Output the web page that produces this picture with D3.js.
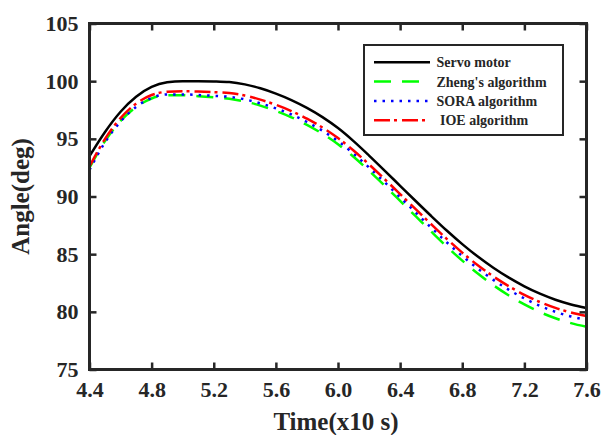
<!DOCTYPE html>
<html>
<head>
<meta charset="utf-8">
<script src="https://cdn.jsdelivr.net/npm/d3@7"></script>
<style>
  body { margin: 0; background: #fff; }
  svg { display: block; }
  text { font-family: "Liberation Serif", "Times New Roman", serif; font-weight: bold; fill: #262626; }
</style>
</head>
<body>
<svg width="604" height="435"></svg>
<script>
const time = [4.4, 4.5, 4.6, 4.7, 4.8, 4.9, 5.0, 5.1, 5.2, 5.3, 5.4, 5.5, 5.6, 5.7, 5.8, 5.9, 6.0,
  6.1, 6.2, 6.3, 6.4, 6.5, 6.6, 6.7, 6.8, 6.9, 7.0, 7.1, 7.2, 7.3, 7.4, 7.5, 7.6];

const servo = [93.5, 95.6, 97.35, 98.65, 99.5, 99.9, 100.0, 100.0, 99.98, 99.92, 99.72, 99.38, 98.92,
  98.36, 97.68, 96.88, 95.93, 94.8, 93.55, 92.25, 90.93, 89.61, 88.31, 87.05, 85.87, 84.79, 83.82,
  82.96, 82.21, 81.57, 81.05, 80.64, 80.33];
const zheng = [92.5, 94.8, 96.55, 97.75, 98.5, 98.78, 98.78, 98.7, 98.6, 98.48, 98.24, 97.88, 97.42,
  96.87, 96.21, 95.44, 94.53, 93.44, 92.22, 90.94, 89.62, 88.29, 86.96, 85.66, 84.44, 83.32, 82.31,
  81.42, 80.64, 79.98, 79.44, 79.02, 78.7];
const sora = [92.3, 94.7, 96.5, 97.77, 98.55, 98.85, 98.85, 98.8, 98.73, 98.64, 98.42, 98.08, 97.64,
  97.11, 96.46, 95.7, 94.8, 93.72, 92.51, 91.24, 89.93, 88.61, 87.3, 86.03, 84.84, 83.75, 82.77,
  81.91, 81.16, 80.52, 80.0, 79.6, 79.3];
const ioe = [92.6, 95.0, 96.8, 98.05, 98.8, 99.08, 99.12, 99.1, 99.05, 98.97, 98.75, 98.4, 97.95,
  97.41, 96.75, 95.98, 95.07, 93.99, 92.78, 91.51, 90.21, 88.9, 87.6, 86.33, 85.13, 84.04, 83.07,
  82.22, 81.48, 80.85, 80.34, 79.94, 79.63];

const xTicks = [4.4, 4.8, 5.2, 5.6, 6.0, 6.4, 6.8, 7.2, 7.6];
const yTicks = [75, 80, 85, 90, 95, 100, 105];
const names = ["Servo motor", "Zheng's algorithm", "SORA algorithm", " IOE algorithm"];

const series = [
  { name: names[0], values: servo, color: "#000000", dash: null, width: 2.5 },
  { name: names[1], values: zheng, color: "#00ff00", dash: "17,11", width: 2.5 },
  { name: names[2], values: sora, color: "#0000ff", dash: "2.5,6", width: 2.5 },
  { name: names[3], values: ioe, color: "#ff0000", dash: "16,4,3,5", width: 2.5 }
];

const svg = d3.select("svg");
const mLeft = 89.5, mTop = 23.5, mRight = 586.5, mBottom = 369.5;
const axisColor = "#262626";

const x = d3.scaleLinear().domain([4.4, 7.6]).range([mLeft, mRight]);
const y = d3.scaleLinear().domain([75, 105]).range([mBottom, mTop]);

// curves
const line = d3.line()
  .x((d, i) => x(time[i]))
  .y(d => y(d))
  .curve(d3.curveMonotoneX);

svg.append("g")
  .selectAll("path")
  .data(series)
  .enter()
  .append("path")
  .attr("d", d => line(d.values))
  .attr("fill", "none")
  .attr("stroke", d => d.color)
  .attr("stroke-width", d => d.width)
  .attr("stroke-dasharray", d => d.dash);

// axes, ticks pointing inward on all four sides
const styleAxis = (g, labels) => {
  g.select(".domain").remove();
  g.selectAll(".tick line").attr("stroke", axisColor).attr("stroke-width", 2.5);
  g.selectAll("text").style("font-size", "22px").attr("fill", axisColor);
  if (!labels) g.selectAll("text").remove();
};

svg.append("g")
  .attr("transform", `translate(0,${mBottom})`)
  .call(d3.axisBottom(x).tickValues(xTicks).tickFormat(d3.format(".1f")).tickSize(-7).tickPadding(12))
  .call(g => styleAxis(g, true));
svg.append("g")
  .attr("transform", `translate(0,${mTop})`)
  .call(d3.axisTop(x).tickValues(xTicks).tickSize(-7))
  .call(g => styleAxis(g, false));
svg.append("g")
  .attr("transform", `translate(${mLeft},0)`)
  .call(d3.axisLeft(y).tickValues(yTicks).tickSize(-7).tickPadding(11))
  .call(g => styleAxis(g, true));
svg.append("g")
  .attr("transform", `translate(${mRight},0)`)
  .call(d3.axisRight(y).tickValues(yTicks).tickSize(-7))
  .call(g => styleAxis(g, false));

svg.append("rect")
  .attr("x", mLeft).attr("y", mTop)
  .attr("width", mRight - mLeft).attr("height", mBottom - mTop)
  .attr("fill", "none")
  .attr("stroke", axisColor)
  .attr("stroke-width", 3);

// axis titles
svg.append("text")
  .attr("x", (mLeft + mRight) / 2 - 2)
  .attr("y", 430)
  .attr("text-anchor", "middle")
  .style("font-size", "25px")
  .text("Time(x10 s)");
svg.append("text")
  .attr("transform", `translate(29,${(mTop + mBottom) / 2}) rotate(-90)`)
  .attr("text-anchor", "middle")
  .style("font-size", "25px")
  .text("Angle(deg)");

// legend
const legend = svg.append("g");
legend.append("rect")
  .attr("x", 364).attr("y", 45)
  .attr("width", 199).attr("height", 90)
  .attr("fill", "#fff")
  .attr("stroke", axisColor)
  .attr("stroke-width", 2);

const item = legend.selectAll(".item")
  .data(series)
  .enter()
  .append("g")
  .attr("transform", (d, i) => `translate(0,${62.3 + i * 19.3})`);
item.append("line")
  .attr("x1", 374).attr("x2", 430)
  .attr("stroke", d => d.color)
  .attr("stroke-width", d => d.width)
  .attr("stroke-dasharray", d => d.dash);
item.append("text")
  .attr("x", 436.5)
  .attr("dy", "0.35em")
  .style("font-size", "14px")
  .style("white-space", "pre")
  .attr("fill", "#000")
  .text(d => d.name);
</script>
</body>
</html>
